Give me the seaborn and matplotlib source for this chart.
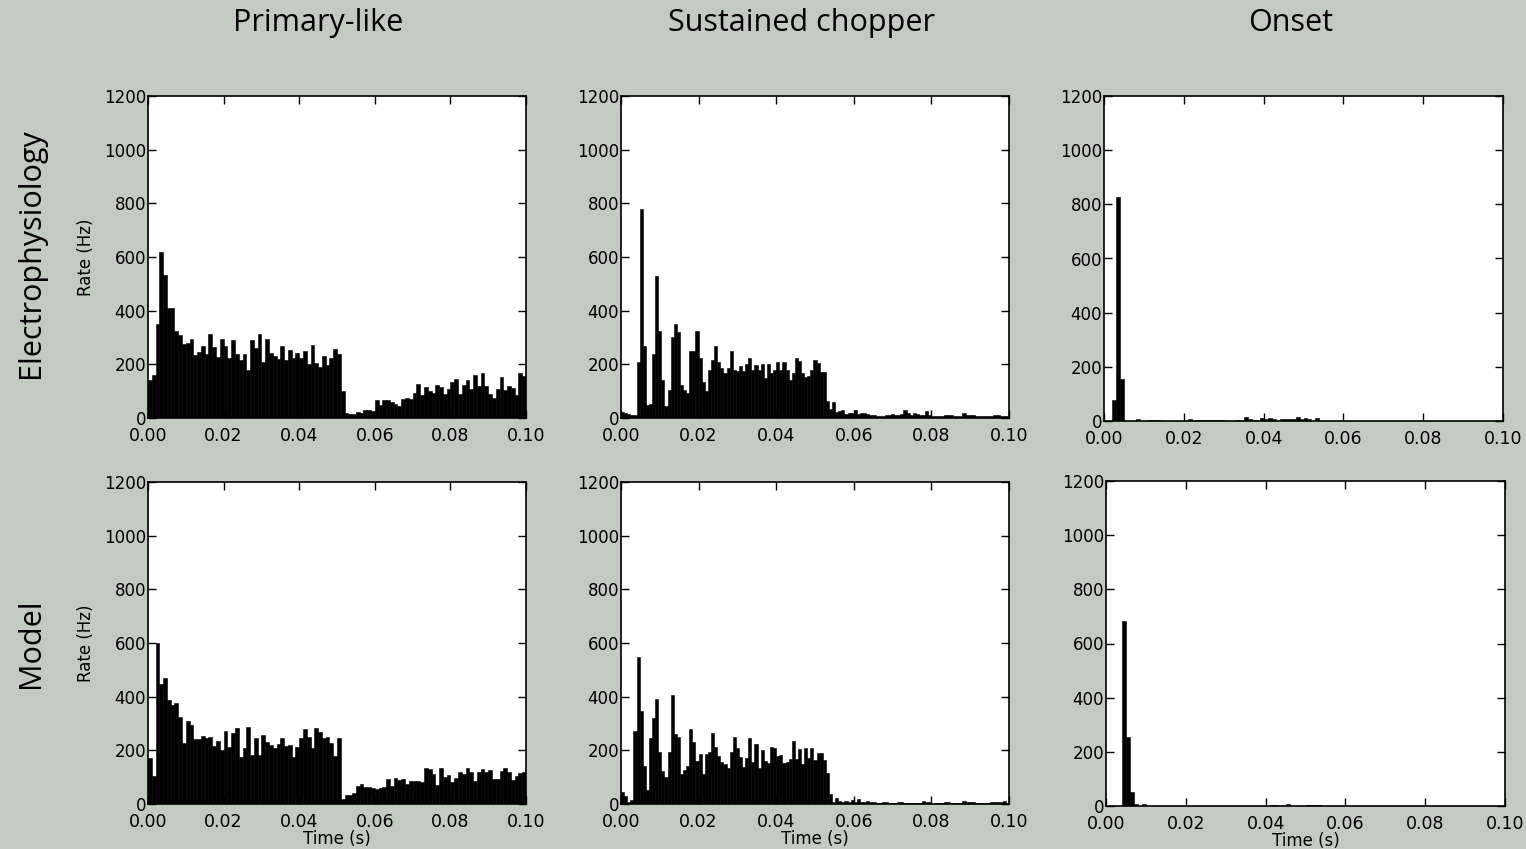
import numpy as np
import pandas as pd
import matplotlib
matplotlib.use("Agg")
import matplotlib.pyplot as plt
import seaborn as sns

W, H = 1526, 849

col_titles = ["Primary-like", "Sustained chopper", "Onset"]
row_titles = ["Electrophysiology", "Model"]
x_ticks = [0.00, 0.02, 0.04, 0.06, 0.08, 0.10]
y_ticks = [0, 200, 400, 600, 800, 1000, 1200]
x_label = "Time (s)"
y_label = "Rate (Hz)"

# PSTH rates (Hz) per bin, bins span 0 .. 0.1 s
primary_ephys = [
    143, 159, 352, 617, 534, 409, 409, 324, 308, 277,
    281, 293, 236, 245, 268, 240, 312, 265, 227, 296,
    268, 225, 292, 240, 217, 240, 180, 292, 261, 312,
    209, 296, 243, 231, 221, 268, 217, 252, 225, 243,
    225, 248, 200, 273, 206, 190, 231, 196, 224, 256,
    240, 99, 19, 14, 14, 22, 19, 29, 29, 25,
    66, 47, 66, 66, 60, 53, 43, 70, 75, 70,
    94, 128, 87, 116, 101, 93, 122, 116, 91, 109,
    134, 147, 88, 122, 143, 107, 159, 119, 168, 119,
    91, 75, 107, 153, 103, 119, 113, 87, 168, 157,
]
primary_model = [
    170, 106, 599, 447, 471, 388, 369, 375, 323, 226,
    311, 294, 242, 242, 253, 245, 248, 216, 235, 201,
    272, 211, 263, 282, 174, 207, 286, 183, 247, 183,
    257, 230, 220, 207, 222, 245, 217, 220, 176, 211,
    245, 278, 248, 207, 282, 270, 247, 251, 229, 180,
    245, 17, 32, 32, 40, 67, 73, 65, 65, 61,
    56, 61, 65, 92, 68, 96, 89, 92, 73, 86,
    86, 86, 81, 133, 129, 112, 71, 133, 102, 108,
    81, 96, 118, 111, 133, 120, 86, 118, 129, 120,
    127, 92, 92, 123, 133, 120, 89, 106, 114, 118,
]
chopper_ephys = [
    22, 19, 14, 10, 10, 207, 779, 267, 49, 53,
    238, 528, 325, 140, 43, 106, 300, 352, 319, 123,
    105, 93, 251, 251, 325, 223, 133, 102, 180, 217,
    267, 207, 185, 167, 185, 251, 179, 177, 193, 177,
    201, 223, 180, 199, 180, 201, 149, 201, 167, 179,
    207, 180, 207, 180, 140, 167, 223, 214, 167, 152,
    156, 180, 217, 205, 172, 172, 64, 32, 59, 23,
    27, 30, 14, 17, 17, 30, 15, 20, 17, 15,
    10, 10, 7, 7, 7, 10, 10, 15, 10, 10,
    15, 30, 20, 12, 17, 15, 10, 10, 25, 10,
    7, 7, 7, 7, 10, 10, 10, 7, 7, 7,
    17, 12, 10, 10, 6, 6, 6, 7, 7, 7,
    10, 10, 7, 7, 7,
]
chopper_model = [
    46, 31, 9, 15, 272, 547, 347, 143, 52, 245,
    319, 390, 193, 123, 102, 193, 406, 261, 251, 112,
    127, 143, 278, 230, 160, 185, 112, 186, 193, 266,
    211, 180, 155, 148, 133, 193, 251, 207, 174, 139,
    170, 245, 155, 222, 133, 201, 161, 152, 214, 207,
    180, 183, 152, 155, 166, 235, 168, 205, 149, 207,
    170, 207, 164, 191, 191, 164, 114, 37, 9, 21,
    11, 9, 11, 9, 15, 6, 17, 6, 6, 11,
    6, 6, 5, 5, 6, 6, 5, 5, 5, 7,
    7, 5, 5, 5, 5, 5, 5, 11, 6, 6,
    0, 5, 5, 5, 7, 7, 5, 5, 5, 5,
    11, 6, 6, 6, 5, 5, 5, 5, 5, 6,
    6, 6, 6, 11, 5,
]
onset_ephys = [
    0, 0, 76, 828, 156, 0, 0, 0, 9, 0,
    0, 2, 2, 2, 0, 0, 0, 0, 0, 0,
    0, 6, 0, 2, 2, 2, 2, 2, 2, 5,
    0, 0, 0, 4, 0, 16, 9, 2, 0, 12,
    7, 12, 9, 0, 6, 6, 6, 6, 13, 6,
    10, 6, 0, 10, 0, 0, 0, 0, 0, 0,
    0, 0, 0, 0, 0, 0, 0, 0, 0, 0,
    0, 0, 0, 0, 0, 0, 0, 0, 0, 0,
    0, 0, 0, 0, 0, 0, 0, 0, 0, 0,
    0, 0, 0, 0, 0, 0, 0, 0, 0, 0,
]
onset_model = [
    0, 0, 0, 0, 684, 256, 50, 7, 0, 6,
    0, 0, 0, 0, 0, 0, 0, 0, 0, 0,
    0, 0, 0, 0, 0, 0, 0, 0, 0, 0,
    0, 0, 0, 0, 0, 0, 0, 0, 0, 0,
    0, 3, 3, 0, 0, 7, 0, 0, 0, 0,
    3, 3, 3, 3, 0, 0, 0, 0, 0, 0,
    0, 0, 0, 0, 0, 0, 0, 0, 0, 0,
    0, 0, 0, 0, 0, 0, 0, 0, 0, 0,
    0, 0, 0, 0, 0, 0, 0, 0, 0, 0,
    0, 0, 0, 0, 0, 0, 0, 0, 0, 0,
]

panels = [[primary_ephys, chopper_ephys, onset_ephys],
          [primary_model, chopper_model, onset_model]]

# axes boxes in pixels: left, top, right, bottom
boxes = [
    [(148, 96, 526, 418), (621, 96, 1009, 418), (1104, 96, 1503, 421)],
    [(148, 482, 526, 804), (621, 482, 1009, 804), (1106, 481, 1505, 806)],
]

sns.set_theme(style="ticks")
plt.rcParams["font.family"] = ["DejaVu Sans"]
plt.rcParams["text.color"] = "black"
plt.rcParams["axes.labelcolor"] = "black"
BG = "#c2cbc0"

fig = plt.figure(figsize=(W / 100, H / 100), dpi=100, facecolor=BG)

for r in range(2):
    for c in range(3):
        l, t, rr, b = boxes[r][c]
        ax = fig.add_axes([l / W, 1 - b / H, (rr - l) / W, (b - t) / H])
        vals = np.asarray(panels[r][c], dtype=float)
        edges = np.linspace(0.0, 0.1, len(vals) + 1)
        centers = (edges[:-1] + edges[1:]) / 2
        df = pd.DataFrame({"time": centers, "rate": vals})
        sns.histplot(data=df, x="time", weights="rate", bins=list(edges),
                     ax=ax, color="black", alpha=1, edgecolor="black",
                     linewidth=0.4, stat="count")
        ax.set_facecolor("white")
        ax.set_xlim(0, 0.1)
        ax.set_ylim(0, 1200)
        ax.set_xticks(x_ticks)
        ax.set_xticklabels([f"{v:.2f}" for v in x_ticks])
        ax.set_yticks(y_ticks)
        ax.set_yticklabels([str(v) for v in y_ticks])
        ax.tick_params(direction="in", top=True, right=True, length=6,
                       width=1, labelsize=12.5, colors="black", pad=6.5)
        ax.tick_params(axis="y", pad=1.5, labelsize=12)
        for s in ax.spines.values():
            s.set_visible(True)
            s.set_linewidth(1.2)
            s.set_color("black")
        ax.set_ylabel("")
        ax.set_xlabel("")
        if c == 0:
            ax.set_ylabel(y_label, fontsize=12, color="black")
            ax.yaxis.label.set_va("center")
            ax.yaxis.set_label_coords((86 - l) / (rr - l), 0.5)
        if r == 1:
            ax.set_xlabel(x_label, fontsize=12, labelpad=-1, color="black")

title_x = [318, 802, 1291]
for c, txt in enumerate(col_titles):
    fig.text(title_x[c] / W, 1 - 23 / H, txt, ha="center", va="center",
             fontsize=22, color="black", family=["Open Sans", "DejaVu Sans"])
row_y = [253, 643]
for r, txt in enumerate(row_titles):
    fig.text(31 / W, 1 - row_y[r] / H, txt, ha="center", va="center",
             rotation=90, fontsize=22, color="black",
             family=["Open Sans", "DejaVu Sans"])

fig.savefig("out.png", dpi=100, facecolor=BG)
